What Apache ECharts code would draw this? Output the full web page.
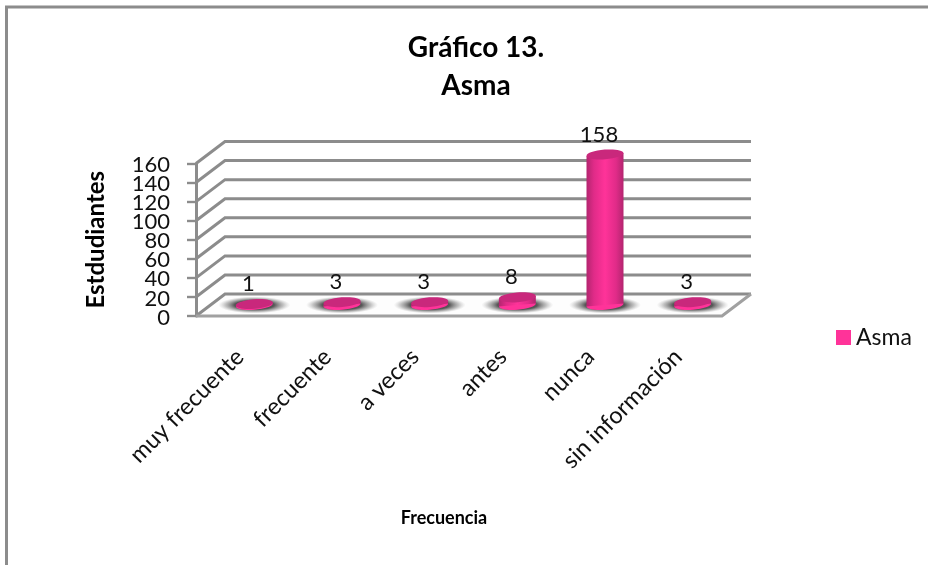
<!DOCTYPE html>
<html>
<head>
<meta charset="utf-8">
<style>html,body{margin:0;padding:0;background:#fff}#c{width:928px;height:565px}</style>
<script src="https://cdn.jsdelivr.net/npm/echarts@6/dist/echarts.min.js"></script>
</head>
<body>
<div id="c"></div>
<script>
var categories = ['muy frecuente','frecuente','a veces','antes','nunca','sin información'];
var values = [1,3,3,8,158,3];
var ticks = [0,20,40,60,80,100,120,140,160];
var seriesName = 'Asma';
var titleText = 'Gráfico 13.\nAsma';
var xName = 'Frecuencia';
var yName = 'Estdudiantes';
var FONT = 'Lato, "Open Sans", sans-serif';
var GRAY = '#8c8c8c', DX = 29, DY = 22, R = 18.5;

var chart = echarts.init(document.getElementById('c'));

function wall(params, api) {
  var cs = params.coordSys;
  var v = api.value(1);
  var y = api.coord([0, v])[1];
  var left = cs.x, right = cs.x + cs.width;
  var kids = [
    {type:'polyline', shape:{points:[[left,y],[left+DX,y-DY],[right+DX,y-DY]]},
     style:{fill:null, stroke:GRAY, lineWidth:3}},
    {type:'text', x:left-26, y:y+1.5, style:{text:String(v), fill:'#111', font:'22px '+FONT, align:'right', verticalAlign:'middle'}}
  ];
  if (v === 0) {
    kids.unshift({type:'polygon', shape:{points:[[left,y],[left+DX,y-DY],[right+DX,y-DY],[right,y]]},
      style:{fill:'#fdfdfd', stroke:null}});
    kids.push({type:'polyline', shape:{points:[[left,y],[right,y],[right+DX,y-DY]]},
      style:{fill:null, stroke:'#a0a0a0', lineWidth:3}});
  }
  return {type:'group', children:kids};
}

function cyl(params, api) {
  var p = api.coord([api.value(0), api.value(1)]);
  var b = api.coord([api.value(0), 0]);
  var cx = b[0] + DX/2, by = b[1] - DY/2, ty = p[1] - DY/2;
  var ry = 4.8, rot = 0.08, s = R * Math.sin(rot);
  var grad = new echarts.graphic.LinearGradient(0,0,1,0,[
    {offset:0,color:'#b3256f'},{offset:0.2,color:'#e02b88'},{offset:0.5,color:'#ff3399'},
    {offset:0.8,color:'#e02b88'},{offset:1,color:'#b3256f'}]);
  var shadow = new echarts.graphic.RadialGradient(0.5,0.5,0.5,[
    {offset:0,color:'rgba(50,50,50,0.95)'},{offset:0.55,color:'rgba(65,65,65,0.88)'},
    {offset:0.8,color:'rgba(120,120,120,0.45)'},{offset:1,color:'rgba(170,170,170,0)'}]);
  return {type:'group', children:[
    {type:'circle', shape:{cx:cx, cy:by, r:36}, style:{fill:shadow}, scaleY:8.5/36, originX:cx, originY:by},
    {type:'ellipse', shape:{cx:cx, cy:by, rx:R, ry:ry}, style:{fill:'#ff3399'}, rotation:rot, originX:cx, originY:by},
    {type:'polygon', shape:{points:[[cx-R,ty+s],[cx+R,ty-s],[cx+R,by-s],[cx-R,by+s]]}, style:{fill:grad}},
    {type:'ellipse', shape:{cx:cx, cy:ty, rx:R, ry:ry}, style:{fill:'#c9287c'}, rotation:rot, originX:cx, originY:ty},
    {type:'text', x:cx-6, y:ty-20, style:{text:String(api.value(1)), fill:'#111', font:'22px '+FONT, align:'center', verticalAlign:'middle'}}
  ]};
}

chart.setOption({
  animation:false,
  backgroundColor:'#fff',
  title:{text:titleText, left:471, top:24, textAlign:'center',
    textStyle:{fontFamily:FONT, fontWeight:'bold', fontSize:28, color:'#000', lineHeight:38}},
  legend:{data:[seriesName], left:831, top:321, orient:'vertical', icon:'rect', itemWidth:15, itemHeight:15, itemGap:4,
    textStyle:{fontFamily:FONT, fontSize:23, color:'#111'}},
  grid:{left:196, top:163.5, width:526, height:152.5},
  xAxis:{type:'category', data:categories, name:xName, nameLocation:'middle', nameGap:193,
    nameTextStyle:{fontFamily:FONT, fontWeight:'bold', fontSize:18, color:'#000', padding:[0,30,0,0]},
    axisLine:{show:false}, axisTick:{show:false},
    axisLabel:{interval:0, rotate:45, margin:37, fontFamily:FONT, fontSize:23.5, color:'#111'}},
  yAxis:{type:'value', min:0, max:160, interval:20, name:yName, nameLocation:'middle', nameGap:88,
    nameTextStyle:{fontFamily:FONT, fontWeight:'bold', fontSize:24, color:'#000'},
    axisLine:{show:true, lineStyle:{color:GRAY, width:3}},
    axisTick:{show:true, length:9, lineStyle:{color:GRAY, width:2.4}},
    axisLabel:{show:false},
    splitLine:{show:false}},
  graphic:[
    {type:'polyline', silent:true, shape:{points:[[6.5,565],[6.5,7],[928,7]]}, style:{fill:null, stroke:'#8c8c8c', lineWidth:3}}
  ],
  series:[
    {type:'custom', name:'wall', silent:true, z:1, renderItem:wall,
      data:ticks.map(function(t){return [0,t];}), encode:{x:0,y:1}},
    {type:'custom', name:seriesName, silent:true, z:3, renderItem:cyl, itemStyle:{color:'#ff3399'},
      data:values.map(function(v,i){return [i,v];}), encode:{x:0,y:1}}
  ]
});
</script>
</body>
</html>
